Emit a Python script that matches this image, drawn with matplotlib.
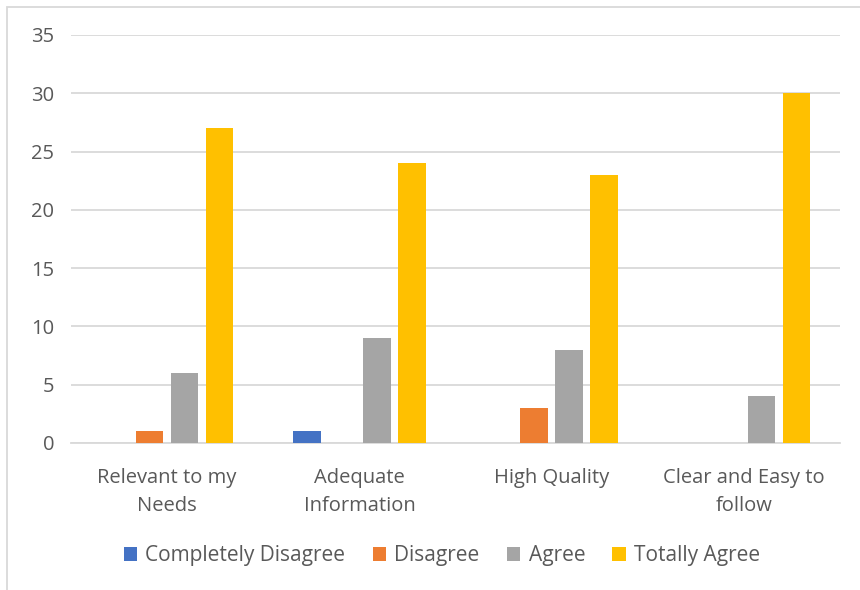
import numpy as np
import matplotlib.pyplot as plt
from matplotlib.patches import Rectangle

plt.rcParams['font.family'] = ['Open Sans', 'DejaVu Sans']

categories = ['Relevant to my\nNeeds', 'Adequate\nInformation', 'High Quality', 'Clear and Easy to\nfollow']
series = ['Completely Disagree', 'Disagree', 'Agree', 'Totally Agree']
completely_disagree = [0, 1, 0, 0]
disagree = [1, 0, 3, 0]
agree = [6, 9, 8, 4]
totally_agree = [27, 24, 23, 30]
colors = ['#4472C4', '#ED7D31', '#A5A5A5', '#FFC000']

values = [completely_disagree, disagree, agree, totally_agree]

fig = plt.figure(figsize=(8.6, 5.9), dpi=100)
ax = fig.add_axes([71/860, 1-443/590, (840-71)/860, (443-35)/590])

x = np.arange(len(categories))
step = 0.182
width = 0.142
for i, (name, vals) in enumerate(zip(series, values)):
    ax.bar(x + (i - 1.5) * step, vals, width, color=colors[i], label=name, zorder=3)

ax.set_xlim(-0.5, 3.5)
ax.set_ylim(0, 35)
ax.set_yticks(range(0, 36, 5))
ax.grid(axis='y', color='#D9D9D9', linewidth=1.3, zorder=0)
for s in ['top', 'right', 'left']:
    ax.spines[s].set_visible(False)
ax.spines['bottom'].set_color('#D9D9D9')
ax.spines['bottom'].set_linewidth(1.3)
ax.tick_params(length=0, colors='#595959', labelsize=14.5)
ax.tick_params(axis='y', pad=12)
ax.tick_params(axis='x', pad=18)
ax.set_xticks(x)
ax.set_xticklabels(categories, linespacing=1.55)

leg = fig.legend(loc='center', bbox_to_anchor=(442/860, 1-556/590), ncol=4, frameon=False,
                 fontsize=15, handlelength=0.65, handleheight=0.65, handletextpad=0.4,
                 columnspacing=1.3)
for t in leg.get_texts():
    t.set_color('#595959')

# chart border (only top/left visible in the crop)
fig.patches.append(Rectangle((7/860, -0.1), 1.2, 1 - 7/590 + 0.1, transform=fig.transFigure,
                             fill=False, edgecolor='#D9D9D9', linewidth=1.3))

fig.savefig('out.png', dpi=100)
